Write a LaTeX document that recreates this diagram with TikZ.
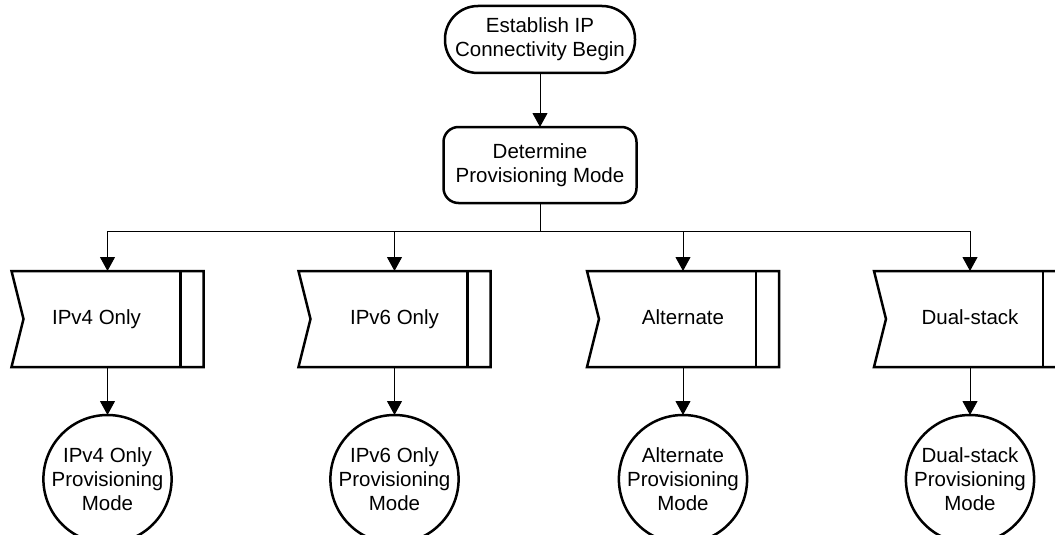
\documentclass[tikz,border=0pt]{standalone}
\usepackage{fontspec}
\setmainfont{Liberation Sans}
\usetikzlibrary{arrows.meta,positioning}

% outline of a provisioning-mode box: notched left side, bar on the right
\newcommand{\modeframe}[1]{%
  \draw[frame] (#1.north west) -- (#1.north east) -- (#1.south east)
    -- (#1.south west) -- ([xshift=12pt]#1.west) -- cycle;
  \draw[frame] ([xshift=-23pt]#1.north east) -- ([xshift=-23pt]#1.south east);
}

\begin{document}
\begin{tikzpicture}[
  x=1pt, y=1pt,
  node distance=54pt,
  font=\fontsize{20.5}{24}\selectfont,
  frame/.style={line width=2.5pt, line join=miter},
  terminal/.style={rectangle, draw, frame, rounded corners=33pt,
                   minimum width=190pt, minimum height=67pt,
                   inner sep=0pt, outer sep=0pt, align=center},
  decide/.style={rectangle, draw, frame, rounded corners=15pt,
                 minimum width=193pt, minimum height=76pt,
                 inner sep=0pt, outer sep=0pt, align=center},
  modebox/.style={rectangle, minimum width=192pt, minimum height=96pt,
                  inner sep=0pt, outer sep=0pt, text height=15pt, text depth=4.5pt},
  result/.style={circle, draw, frame, minimum size=128pt,
                 inner sep=0pt, outer sep=0pt, align=center},
  link/.style={line width=1pt, -{Triangle[length=14pt,width=15pt]}}
]
  \useasboundingbox (0,0) rectangle (1055,-535);

  \node[terminal] (begin) at (540,-39.5) {Establish IP\\Connectivity Begin};
  \node[decide, below=of begin] (mode) {Determine\\Provisioning Mode};

  \node[modebox] (ipv4) at (107.5,-319) {\hspace*{-22pt}IPv4 Only};
  \node[modebox] (ipv6) at (394.5,-319) {IPv6 Only};
  \node[modebox] (alt)  at (683,-319)   {Alternate};
  \node[modebox] (dual) at (970,-319)   {Dual-stack};
  \modeframe{ipv4}
  \modeframe{ipv6}
  \modeframe{alt}
  \modeframe{dual}

  \node[result, below=48pt of ipv4] (ipv4pm) {IPv4 Only\\Provisioning\\Mode};
  \node[result, below=48pt of ipv6] (ipv6pm) {IPv6 Only\\Provisioning\\Mode};
  \node[result, below=48pt of alt]  (altpm)  {Alternate\\Provisioning\\Mode};
  \node[result, below=48pt of dual] (dualpm) {Dual-stack\\Provisioning\\Mode};

  \draw[link] (begin) -- (mode);
  \draw[line width=1pt] (mode.south) -- ++(0,-28) coordinate (fork);
  \draw[link] (fork) -| (ipv4.north);
  \draw[link] (fork) -| (ipv6.north);
  \draw[link] (fork) -| (alt.north);
  \draw[link] (fork) -| (dual.north);
  \draw[link] (ipv4) -- (ipv4pm);
  \draw[link] (ipv6) -- (ipv6pm);
  \draw[link] (alt)  -- (altpm);
  \draw[link] (dual) -- (dualpm);
\end{tikzpicture}
\end{document}
